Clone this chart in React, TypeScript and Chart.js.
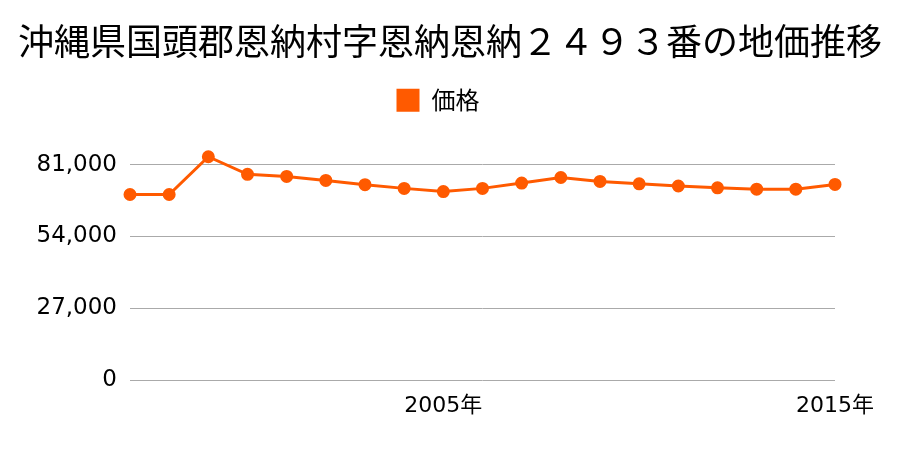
import React, { useEffect, useRef } from "react";
import { Chart, registerables } from "chart.js";

Chart.register(...registerables);

const titleText = "沖縄県国頭郡恩納村字恩納恩納２４９３番の地価推移";
const seriesName = "価格";
const years = [
  "1997", "1998", "1999", "2000", "2001", "2002", "2003", "2004", "2005", "2006",
  "2007", "2008", "2009", "2010", "2011", "2012", "2013", "2014", "2015",
];
const prices = [
  69800, 69800, 84000, 77400, 76600, 75100, 73500, 72100, 70900, 72100,
  74100, 76200, 74700, 73800, 73000, 72300, 71800, 71800, 73600,
];
const shownYears = ["2005", "2015"];
const yTicks = [0, 27000, 54000, 81000];

const FONT = "'Noto Sans CJK JP', 'Noto Sans', sans-serif";
const NUMFONT = "'DejaVu Sans', 'Noto Sans CJK JP', sans-serif";
const COLOR = "#ff5a00";

export default function App() {
  const ref = useRef<HTMLCanvasElement | null>(null);
  useEffect(() => {
    document.body.style.margin = "0";
    const ctx = ref.current!.getContext("2d")!;
    const chart = new Chart(ctx, {
      type: "line",
      data: {
        labels: years,
        datasets: [
          {
            label: seriesName,
            data: prices,
            borderColor: COLOR,
            backgroundColor: COLOR,
            pointBackgroundColor: COLOR,
            pointBorderColor: COLOR,
            borderWidth: 3,
            pointRadius: 5,
            tension: 0,
            yAxisID: "y",
          },
        ],
      },
      options: {
        animation: false,
        responsive: false,
        layout: { padding: { left: 0, right: 0, top: 0, bottom: 0 } },
        plugins: {
          title: {
            display: true,
            text: titleText,
            color: "#000",
            font: { family: FONT, size: 36, weight: "normal" },
            padding: { top: 20, bottom: 15 },
          },
          legend: {
            display: true,
            labels: {
              color: "#000",
              boxWidth: 23,
              boxHeight: 23,
              font: { family: FONT, size: 24 },
              generateLabels: (c: any) => {
                const items = Chart.defaults.plugins.legend.labels.generateLabels(c);
                return items.map((it: any) => ({ ...it, text: it.text + "\u3000", lineWidth: 0 }));
              },
            },
          },
          tooltip: { enabled: false },
        },
        scales: {
          x: {
            offset: false,
            grid: { display: false, drawTicks: false },
            border: { display: false },
            ticks: {
              autoSkip: false,
              maxRotation: 0,
              color: "#000",
              padding: 13,
              font: { family: NUMFONT, size: 22 },
              callback: (_v: any, i: number) => (shownYears.includes(years[i]) ? years[i] + "年" : ""),
            },
            afterFit: (s: any) => {
              s.height = 70;
            },
          },
          y: {
            min: 0,
            max: 97000,
            grid: { color: "#aaaaaa", drawTicks: false, lineWidth: 1 },
            border: { display: false },
            afterBuildTicks: (s: any) => {
              s.ticks = yTicks.map((v) => ({ value: v }));
            },
            ticks: {
              color: "#000",
              padding: 13,
              font: { family: NUMFONT, size: 23 },
              callback: (v: any) => Number(v).toLocaleString("en-US"),
            },
            afterFit: (s: any) => {
              s.width = 130;
            },
          },
          yRight: {
            position: "right",
            display: true,
            grid: { display: false, drawTicks: false },
            border: { display: false },
            ticks: { display: false },
            afterFit: (s: any) => {
              s.width = 65;
            },
          },
        },
      },
    });
    return () => chart.destroy();
  }, []);
  return (
    <div style={{ width: 900, height: 450 }}>
      <canvas ref={ref} width={900} height={450} style={{ width: 900, height: 450 }} />
    </div>
  );
}
